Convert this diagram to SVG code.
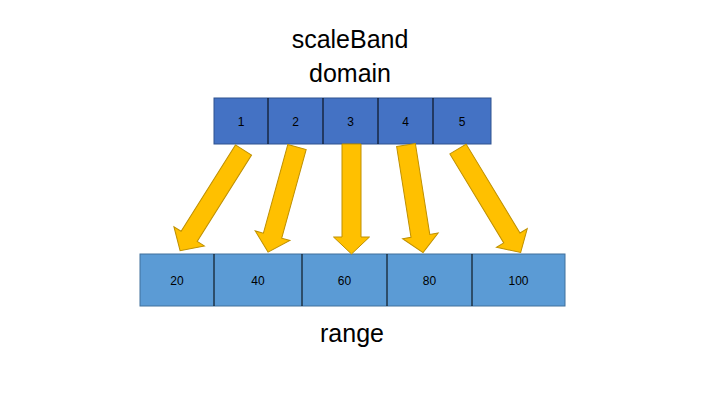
<svg xmlns="http://www.w3.org/2000/svg" width="720" height="405" viewBox="0 0 720 405">
<style>
.title{font-family:"Liberation Sans",Arial,sans-serif;font-size:25px;fill:#000;text-anchor:middle}
.lbl{font-family:"Liberation Sans",Arial,sans-serif;font-size:12px;fill:#000;text-anchor:middle;dominant-baseline:central}
.dom{fill:#4472C4;stroke:#2F528F;stroke-width:1}
.rng{fill:#5B9BD5;stroke:#41719C;stroke-width:1}
.div{stroke:#000;stroke-width:1}
.arr{fill:#FFC000;stroke:#BF9000;stroke-width:1;stroke-linejoin:miter}
</style>
<rect width="720" height="405" fill="#fff"/>
<text class="title" x="350" y="48">scaleBand</text>
<text class="title" x="350" y="82">domain</text>
<text class="title" x="352" y="342">range</text>
<g id="domain">
<rect class="dom" x="214" y="98" width="277" height="46"/>
<line class="div" x1="268" y1="98" x2="268" y2="144"/>
<line class="div" x1="323" y1="98" x2="323" y2="144"/>
<line class="div" x1="378" y1="98" x2="378" y2="144"/>
<line class="div" x1="433" y1="98" x2="433" y2="144"/>
<text class="lbl" x="241" y="122">1</text>
<text class="lbl" x="295.5" y="122">2</text>
<text class="lbl" x="350.5" y="122">3</text>
<text class="lbl" x="405.5" y="122">4</text>
<text class="lbl" x="462" y="122">5</text>
</g>
<g id="range">
<rect class="rng" x="140" y="254" width="425" height="52"/>
<line class="div" x1="214" y1="254" x2="214" y2="306"/>
<line class="div" x1="302" y1="254" x2="302" y2="306"/>
<line class="div" x1="387" y1="254" x2="387" y2="306"/>
<line class="div" x1="472" y1="254" x2="472" y2="306"/>
<text class="lbl" x="177" y="281">20</text>
<text class="lbl" x="258" y="281">40</text>
<text class="lbl" x="344.5" y="281">60</text>
<text class="lbl" x="429.5" y="281">80</text>
<text class="lbl" x="518.5" y="281">100</text>
</g>
<g id="connectors">
<polygon class="arr" transform="translate(243.5,150) rotate(32.2)" points="-9.5,0 9.5,0 9.5,102 18,102 0,119 -18,102 -9.5,102"/>
<polygon class="arr" transform="translate(297,147) rotate(15.4)" points="-9.5,0 9.5,0 9.5,92 18,92 0,109 -18,92 -9.5,92"/>
<polygon class="arr" transform="translate(351.5,144)" points="-9.5,0 9.5,0 9.5,93 18,93 0,110 -18,93 -9.5,93"/>
<polygon class="arr" transform="translate(406,145) rotate(-9)" points="-9.5,0 9.5,0 9.5,92 18,92 0,109 -18,92 -9.5,92"/>
<polygon class="arr" transform="translate(458,149) rotate(-31.2)" points="-9.5,0 9.5,0 9.5,104 18,104 0,121 -18,104 -9.5,104"/>
</g>
</svg>
